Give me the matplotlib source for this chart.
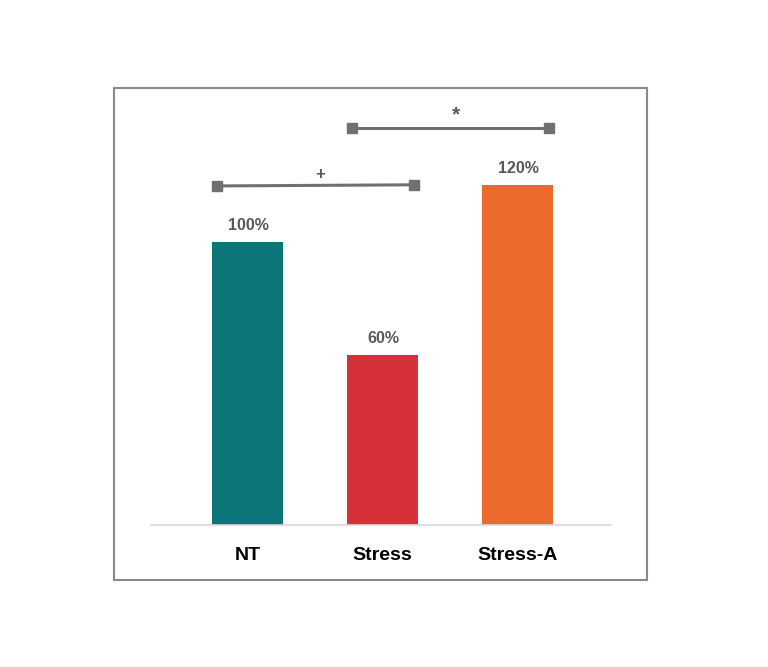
import numpy as np
import matplotlib.pyplot as plt
from matplotlib.patches import Rectangle

# Bar data
groups = ['NT', 'Stress', 'Stress-A']
values = [100, 60, 120]
bar_colors = ['#0b7579', '#d63138', '#ec6a2c']

# Significance brackets: (x start, x end), (y start, y end), mark
sig1_x = [-0.23, 1.23]
sig1_y = [119.7, 120.1]
sig1_mark = '+'
sig2_x = [0.77, 2.23]
sig2_y = [140.0, 140.0]
sig2_mark = '*'

plt.rcParams['font.family'] = ['Liberation Sans', 'DejaVu Sans']

fig = plt.figure(figsize=(7.68, 6.67), dpi=100)

# outer frame around the chart
fig.patches.append(Rectangle((0.1484, 0.1304), 0.694, 0.7376, transform=fig.transFigure,
                             fill=False, edgecolor='#8a8a8a', linewidth=1.5))

ax = fig.add_axes([0.1966, 0.2129, 0.599, 0.637])
x = np.arange(len(groups))
bars = ax.bar(x, values, width=0.526, color=bar_colors, zorder=2)

for xi, v in zip(x, values):
    ax.text(xi + 0.005, v + 3.2, f'{v}%', ha='center', va='bottom', fontsize=11.5,
            fontweight='bold', color='#595959')

# significance lines
gray = '#707070'
for sx, sy, mark in [(sig1_x, sig1_y, sig1_mark), (sig2_x, sig2_y, sig2_mark)]:
    ax.plot(sx, sy, color=gray, linewidth=2.2, marker='s', markersize=7, zorder=3)
    ax.text(np.mean(sx) + 0.04, np.mean(sy) + 1.3, mark, ha='center', va='bottom',
            fontsize=12 if mark == '+' else 15, fontweight='bold', color='#595959')

ax.set_xlim(-0.717, 2.693)
ax.set_ylim(0, 150)
ax.set_xticks(x)
ax.set_xticklabels(groups, fontsize=14, fontweight='bold', color='black')
ax.set_yticks([])
ax.tick_params(axis='x', length=0, pad=16)
for side in ['top', 'right', 'left']:
    ax.spines[side].set_visible(False)
ax.spines['bottom'].set_color('#d9d9d9')
ax.spines['bottom'].set_linewidth(1.2)

fig.savefig('out.png', dpi=100)
